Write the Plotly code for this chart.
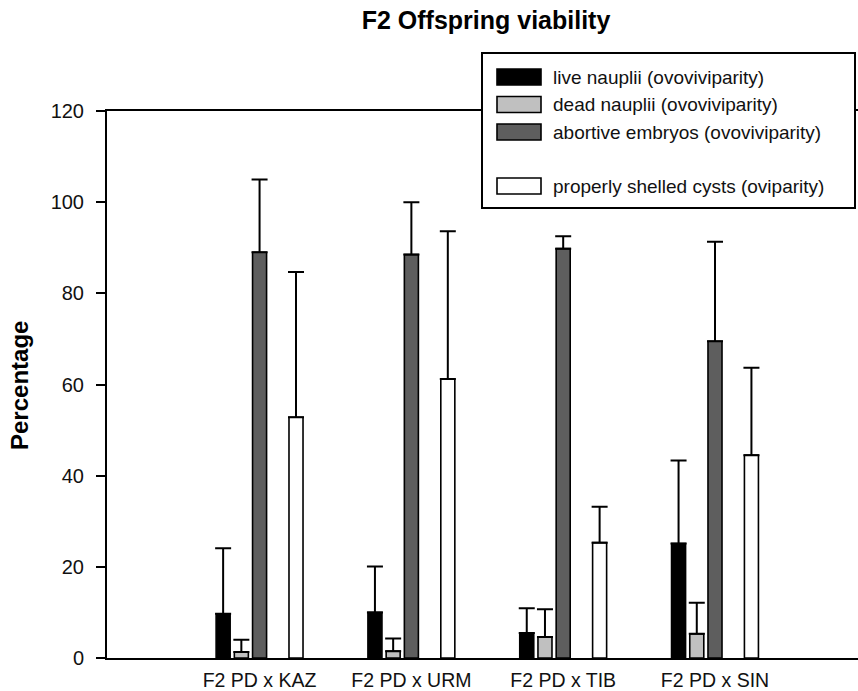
import plotly.graph_objects as go

# ---------------- data ----------------
categories = ["F2 PD x KAZ", "F2 PD x URM", "F2 PD x TIB", "F2 PD x SIN"]
series_names = [
    "live nauplii (ovoviviparity)",
    "dead nauplii (ovoviviparity)",
    "abortive embryos (ovoviviparity)",
    "properly shelled cysts (oviparity)",
]
live_mean = [9.7, 10.0, 5.5, 25.1]
live_sd = [14.4, 10.1, 5.4, 18.2]
dead_mean = [1.3, 1.5, 4.6, 5.3]
dead_sd = [2.7, 2.8, 6.1, 6.8]
abortive_mean = [89.0, 88.5, 89.8, 69.5]
abortive_sd = [16.0, 11.5, 2.7, 21.8]
cysts_mean = [52.8, 61.2, 25.3, 44.5]
cysts_sd = [31.9, 32.4, 7.9, 19.2]
y_ticks = [0, 20, 40, 60, 80, 100, 120]

# ---------------- style ----------------
colors = ["#000000", "#c0c0c0", "#5e5e5e", "#ffffff"]
FONT = "Arial, Liberation Sans, sans-serif"
TXT = "#111111"

W, H = 858, 691
ML, MR, MT, MB = 107, 0, 111, 33
PW, PH = W - ML - MR, H - MT - MB


def px(x):
    return (x - ML) / PW


def py(y):
    return (H - MB - y) / PH


fig = go.Figure()

means = [live_mean, dead_mean, abortive_mean, cysts_mean]
sds = [live_sd, dead_sd, abortive_sd, cysts_sd]

for i in range(3):
    fig.add_trace(go.Bar(
        x=categories, y=means[i], name=series_names[i],
        marker=dict(color=colors[i], line=dict(color="#000000", width=1.6)),
        error_y=dict(type="data", symmetric=False, array=sds[i],
                     arrayminus=[0] * len(categories),
                     color="#000000", thickness=2, width=8),
        showlegend=False, hoverinfo="skip",
    ))
# empty slot (gap between ovoviviparity and oviparity bars)
fig.add_trace(go.Bar(
    x=categories, y=[0] * len(categories), name="",
    marker=dict(color="rgba(0,0,0,0)", line=dict(width=0)),
    showlegend=False, hoverinfo="skip",
))
fig.add_trace(go.Bar(
    x=categories, y=means[3], name=series_names[3],
    marker=dict(color=colors[3], line=dict(color="#000000", width=1.6)),
    error_y=dict(type="data", symmetric=False, array=sds[3],
                 arrayminus=[0] * len(categories),
                 color="#000000", thickness=2, width=8),
    showlegend=False, hoverinfo="skip",
))

# ---------------- custom legend ----------------
shapes = []
annotations = []
box_x0, box_x1, box_y0, box_y1 = 482, 855, 53, 208
shapes.append(dict(type="rect", xref="paper", yref="paper", layer="above",
                   x0=px(box_x0), x1=px(box_x1), y0=py(box_y1), y1=py(box_y0),
                   fillcolor="#ffffff", line=dict(color="#000000", width=2)))
row_y = [77, 104.5, 132, 186]
for i, name in enumerate(series_names):
    yc = row_y[i]
    shapes.append(dict(type="rect", xref="paper", yref="paper", layer="above",
                       x0=px(497), x1=px(541), y0=py(yc + 8), y1=py(yc - 8),
                       fillcolor=colors[i], line=dict(color="#000000", width=1.6)))
    annotations.append(dict(text=name, xref="paper", yref="paper",
                            x=px(551), y=py(yc), xanchor="left", yanchor="middle",
                            showarrow=False, font=dict(family=FONT, size=19, color=TXT)))

# y axis title
annotations.append(dict(text="<b>Percentage</b>", xref="paper", yref="paper",
                        x=px(19), y=py(386), xanchor="center", yanchor="middle",
                        textangle=-90, showarrow=False,
                        font=dict(family=FONT, size=24, color="#000000")))

fig.update_layout(
    width=W, height=H, autosize=False,
    margin=dict(l=ML, r=MR, t=MT, b=MB, pad=0),
    paper_bgcolor="#ffffff", plot_bgcolor="#ffffff",
    barmode="group", bargap=0.40, bargroupgap=0.23,
    title=dict(text="<b>F2 Offspring viability</b>", x=486 / W, xanchor="center",
               xref="container", yref="container", y=(H - 20) / H, yanchor="middle",
               font=dict(family=FONT, size=25, color="#000000")),
    shapes=shapes, annotations=annotations,
    showlegend=False,
)
fig.update_xaxes(
    type="category", range=[-1.005, 3.942],
    showline=True, linecolor="#000000", linewidth=2, mirror=True,
    showgrid=False, zeroline=False, ticks="",
    tickfont=dict(family=FONT, size=19.5, color=TXT),
    ticklabelstandoff=4,
)
fig.update_yaxes(
    range=[0, 120], tickvals=y_ticks,
    showline=True, linecolor="#000000", linewidth=2, mirror=False,
    showgrid=False, zeroline=False,
    ticks="outside", ticklen=9, tickwidth=2, tickcolor="#000000",
    tickfont=dict(family=FONT, size=20, color=TXT),
    ticklabelstandoff=8,
)

fig.write_html(
    "out.html",
    config={"displayModeBar": False},
    post_script="document.body.style.margin='0';document.body.style.padding='0';"
                "document.documentElement.style.overflow='hidden';",
)
